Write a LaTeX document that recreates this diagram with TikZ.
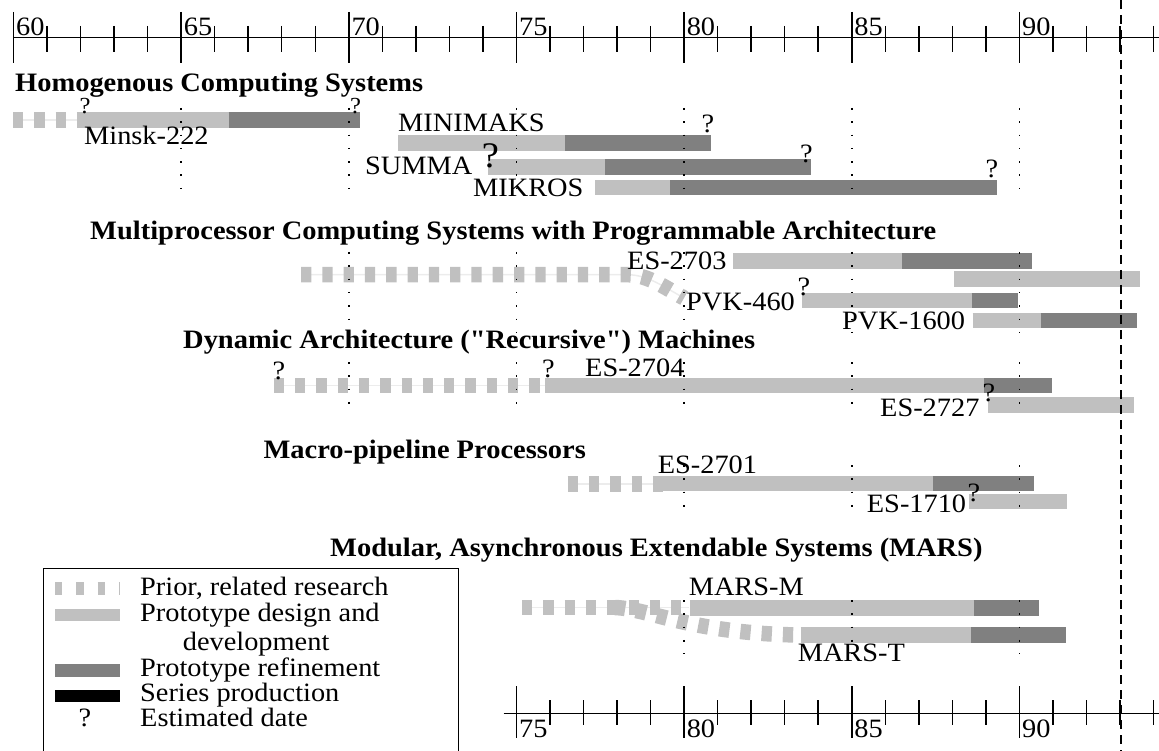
\documentclass[tikz,border=0pt]{standalone}
\usepackage{fontspec}
\setmainfont{Liberation Serif}[FakeStretch=1.07, Ligatures=TeXOff]
\definecolor{lgray}{RGB}{192,192,192}
\definecolor{dgray}{RGB}{128,128,128}
\definecolor{faintg}{RGB}{236,236,236}
\begin{document}
\begin{tikzpicture}[x=1pt,y=-1pt,
  lbl/.style={anchor=base west, inner sep=0pt, font=\fontsize{26.5}{30}\selectfont},
  leg/.style={anchor=base west, inner sep=0pt, font=\fontsize{26.5}{30}\selectfont},
  hdr/.style={anchor=base west, inner sep=0pt, font=\fontsize{26.6}{31}\selectfont\bfseries},
  qm/.style={anchor=base, inner sep=0pt, font=\fontsize{26.5}{30}\selectfont},
  qsmall/.style={qm, font=\fontsize{23}{26}\selectfont},
  qbig/.style={qm, font=\fontsize{36}{40}\selectfont},
  lightbar/.style={draw=lgray, line width=15.5pt},
  darkbar/.style={draw=dgray, line width=15.5pt},
  priorbar/.style={draw=lgray, line width=15.5pt, dash pattern=on 10.3pt off 11pt},
  faintline/.style={draw=faintg, line width=1.5pt},
  vdot/.style={draw=black, line width=1.6pt, dash pattern=on 1.6pt off 11.7pt},
  axisline/.style={draw=black, line width=1.5pt},
  majortick/.style={draw=black, line width=1.5pt},
  minortick/.style={draw=black, line width=1.5pt},
  nowline/.style={draw=black, line width=1.8pt, dash pattern=on 9pt off 6pt}
]
\useasboundingbox (0,0) rectangle (1159,751);

% ---------- top axis ----------
\draw[axisline] (13,37.5) -- (1159,37.5);
\foreach \i in {0,...,34}{
  \pgfmathsetmacro{\xx}{13.5+33.53*\i}
  \pgfmathtruncatemacro{\mm}{mod(\i,5)}
  \ifnum\mm=0
    \draw[majortick] (\xx,12) -- (\xx,63);
  \else
    \draw[minortick] (\xx,26) -- (\xx,52);
  \fi
}
\foreach \v [count=\k from 0] in {60,65,70,75,80,85,90}{
  \pgfmathsetmacro{\xx}{13.5+167.65*\k+2.5}
  \node[lbl] (top\v) at (\xx,36) {\v};
}

% ---------- bottom axis ----------
\draw[axisline] (503.7,713.3) -- (1159,713.3);
\foreach \i in {15,...,34}{
  \pgfmathsetmacro{\xx}{13.5+33.53*\i}
  \pgfmathtruncatemacro{\mm}{mod(\i,5)}
  \ifnum\mm=0
    \draw[majortick] (\xx,686) -- (\xx,738);
  \else
    \draw[minortick] (\xx,700) -- (\xx,725);
  \fi
}
\foreach \v [count=\k from 3] in {75,80,85,90}{
  \pgfmathsetmacro{\xx}{13.5+167.65*\k+2.5}
  \node[lbl] (bot\v) at (\xx,737) {\v};
}

% ---------- Homogenous Computing Systems ----------
\node[hdr] (h1) at (15,91.7) {Homogenous Computing Systems};
\draw[faintline] (13,120) -- (85,120);
\draw[priorbar] (13,120) -- (85,120);
\draw[lightbar] (85,120) -- (228.5,120);
\draw[darkbar] (228.5,120) -- (360,120);
\node[lbl] (minsk) at (84,145) {Minsk-222};
\node[qsmall] (q1) at (85,114) {?};
\node[qsmall] (q2) at (355.5,114) {?};

\draw[lightbar] (398,143) -- (565,143);
\draw[darkbar] (565,143) -- (711,143);
\node[lbl] (minimaks) at (398,131.5) {MINIMAKS};
\node[qm] (q3) at (708,133) {?};

\draw[lightbar] (488,167) -- (605,167);
\draw[darkbar] (605,167) -- (811,167);
\node[lbl] (summa) at (365,175) {SUMMA};
\node[qbig] (q4) at (490.5,168) {?};
\node[qm] (q5) at (806.5,163) {?};

\draw[lightbar] (595,187.5) -- (670,187.5);
\draw[darkbar] (670,187.5) -- (997,187.5);
\node[lbl] (mikros) at (473,197) {MIKROS};
\node[qm] (q6) at (992,178) {?};

\foreach \yr in {65,70,75,80,85,90}{
  \pgfmathsetmacro{\xx}{13.5+33.53*(\yr-60)}
  \draw[vdot] (\xx,108) -- (\xx,196);
}

% ---------- Multiprocessor ----------
\node[hdr] (h2) at (90,240) {Multiprocessor Computing Systems with Programmable Architecture};
\draw[faintline] (301,274.7) -- (628,274.7) .. controls (648,275) and (664,287) .. (684,298);
\draw[priorbar] (301,274.7) -- (628,274.7) .. controls (648,275) and (664,287) .. (684,298);
\draw[lightbar] (733,261) -- (901.7,261);
\draw[darkbar] (901.7,261) -- (1032,261);
\draw[lightbar] (954,279.2) -- (1140,279.2);
\node[lbl] (es2703) at (627,270) {ES-2703};
\draw[lightbar] (801.7,300.3) -- (971.7,300.3);
\draw[darkbar] (971.7,300.3) -- (1018,300.3);
\node[lbl] (pvk460) at (686,310) {PVK-460};
\node[qm] (q7) at (804,295) {?};
\draw[lightbar] (972.7,320.3) -- (1040.7,320.3);
\draw[darkbar] (1040.7,320.3) -- (1137,320.3);
\node[lbl] (pvk1600) at (842,330) {PVK-1600};
\foreach \yr in {70,75,80,85,90}{
  \pgfmathsetmacro{\xx}{13.5+33.53*(\yr-60)}
  \draw[vdot] (\xx,252) -- (\xx,332);
}

% ---------- Dynamic ----------
\node[hdr] (h3) at (183,348) {Dynamic Architecture ("Recursive") Machines};
\draw[faintline] (273.7,385.5) -- (545,385.5);
\draw[priorbar] (273.7,385.5) -- (541,385.5);
\draw[lightbar] (545.4,385.5) -- (984.3,385.5);
\draw[darkbar] (984.3,385.5) -- (1052.3,385.5);
\node[qm] (q8) at (279,379) {?};
\node[qm] (q9) at (548.5,377) {?};
\node[lbl] (es2704) at (585,376.7) {ES-2704};
\draw[lightbar] (988.3,405) -- (1134.3,405);
\node[lbl] (es2727) at (880,416.7) {ES-2727};
\node[qm] (q10) at (989,401) {?};
\foreach \yr in {70,75,80,85,90}{
  \pgfmathsetmacro{\xx}{13.5+33.53*(\yr-60)}
  \draw[vdot] (\xx,362) -- (\xx,406);
}

% ---------- Macro-pipeline ----------
\node[hdr] (h4) at (263.4,458) {Macro-pipeline Processors};
\draw[faintline] (567.6,484) -- (663.3,484);
\draw[priorbar] (567.6,484) -- (663.3,484);
\draw[lightbar] (663.3,483.5) -- (932.7,483.5);
\draw[darkbar] (932.7,483.5) -- (1034,483.5);
\node[lbl] (es2701) at (657.6,473.3) {ES-2701};
\draw[lightbar] (969,501.7) -- (1067.3,501.7);
\node[lbl] (es1710) at (866.7,512.7) {ES-1710};
\node[qm] (q11) at (974,501) {?};
\foreach \yr in {80,85,90}{
  \pgfmathsetmacro{\xx}{13.5+33.53*(\yr-60)}
  \draw[vdot] (\xx,465) -- (\xx,512);
}

% ---------- MARS ----------
\node[hdr] (h5) at (330,556) {Modular, Asynchronous Extendable Systems (MARS)};
\draw[faintline] (522,607.5) -- (689,607.5);
\draw[priorbar] (522,607.5) -- (689,607.5);
\draw[priorbar] (615,607.5) .. controls (650,609) and (690,633) .. (798,635);
\draw[lightbar] (689.7,608) -- (973.7,608);
\draw[darkbar] (973.7,608) -- (1038.7,608);
\node[lbl] (marsm) at (688.6,595) {MARS-M};
\draw[lightbar] (800.7,635) -- (971,635);
\draw[darkbar] (971,635) -- (1065.5,635);
\node[lbl] (marst) at (797.6,661.7) {MARS-T};
\foreach \yr in {80,85,90}{
  \pgfmathsetmacro{\xx}{13.5+33.53*(\yr-60)}
  \draw[vdot] (\xx,600) -- (\xx,654);
}

% ---------- now line ----------
\draw[nowline] (1121,0) -- (1121,751);

% ---------- legend ----------
\draw[line width=1.5pt] (43.5,752) -- (43.5,568.5) -- (458.3,568.5) -- (458.3,752);
\draw[draw=lgray, line width=13pt, dash pattern=on 7.3pt off 14pt] (55,588) -- (120,588);
\draw[draw=lgray, line width=12pt] (55,615) -- (120,615);
\draw[draw=dgray, line width=13pt] (55,670) -- (120,670);
\draw[draw=black, line width=12pt] (55,696) -- (120,696);
\node[leg] (l1) at (140,595) {Prior, related research};
\node[leg] (l2) at (140,621.7) {Prototype design and};
\node[leg] (l3) at (182.7,650) {development};
\node[leg] (l4) at (140,676.7) {Prototype refinement};
\node[leg] (l5) at (140,701.7) {Series production};
\node[qm] (lq) at (85,726.7) {?};
\node[leg] (l6) at (140,726.7) {Estimated date};
\end{tikzpicture}
\end{document}
